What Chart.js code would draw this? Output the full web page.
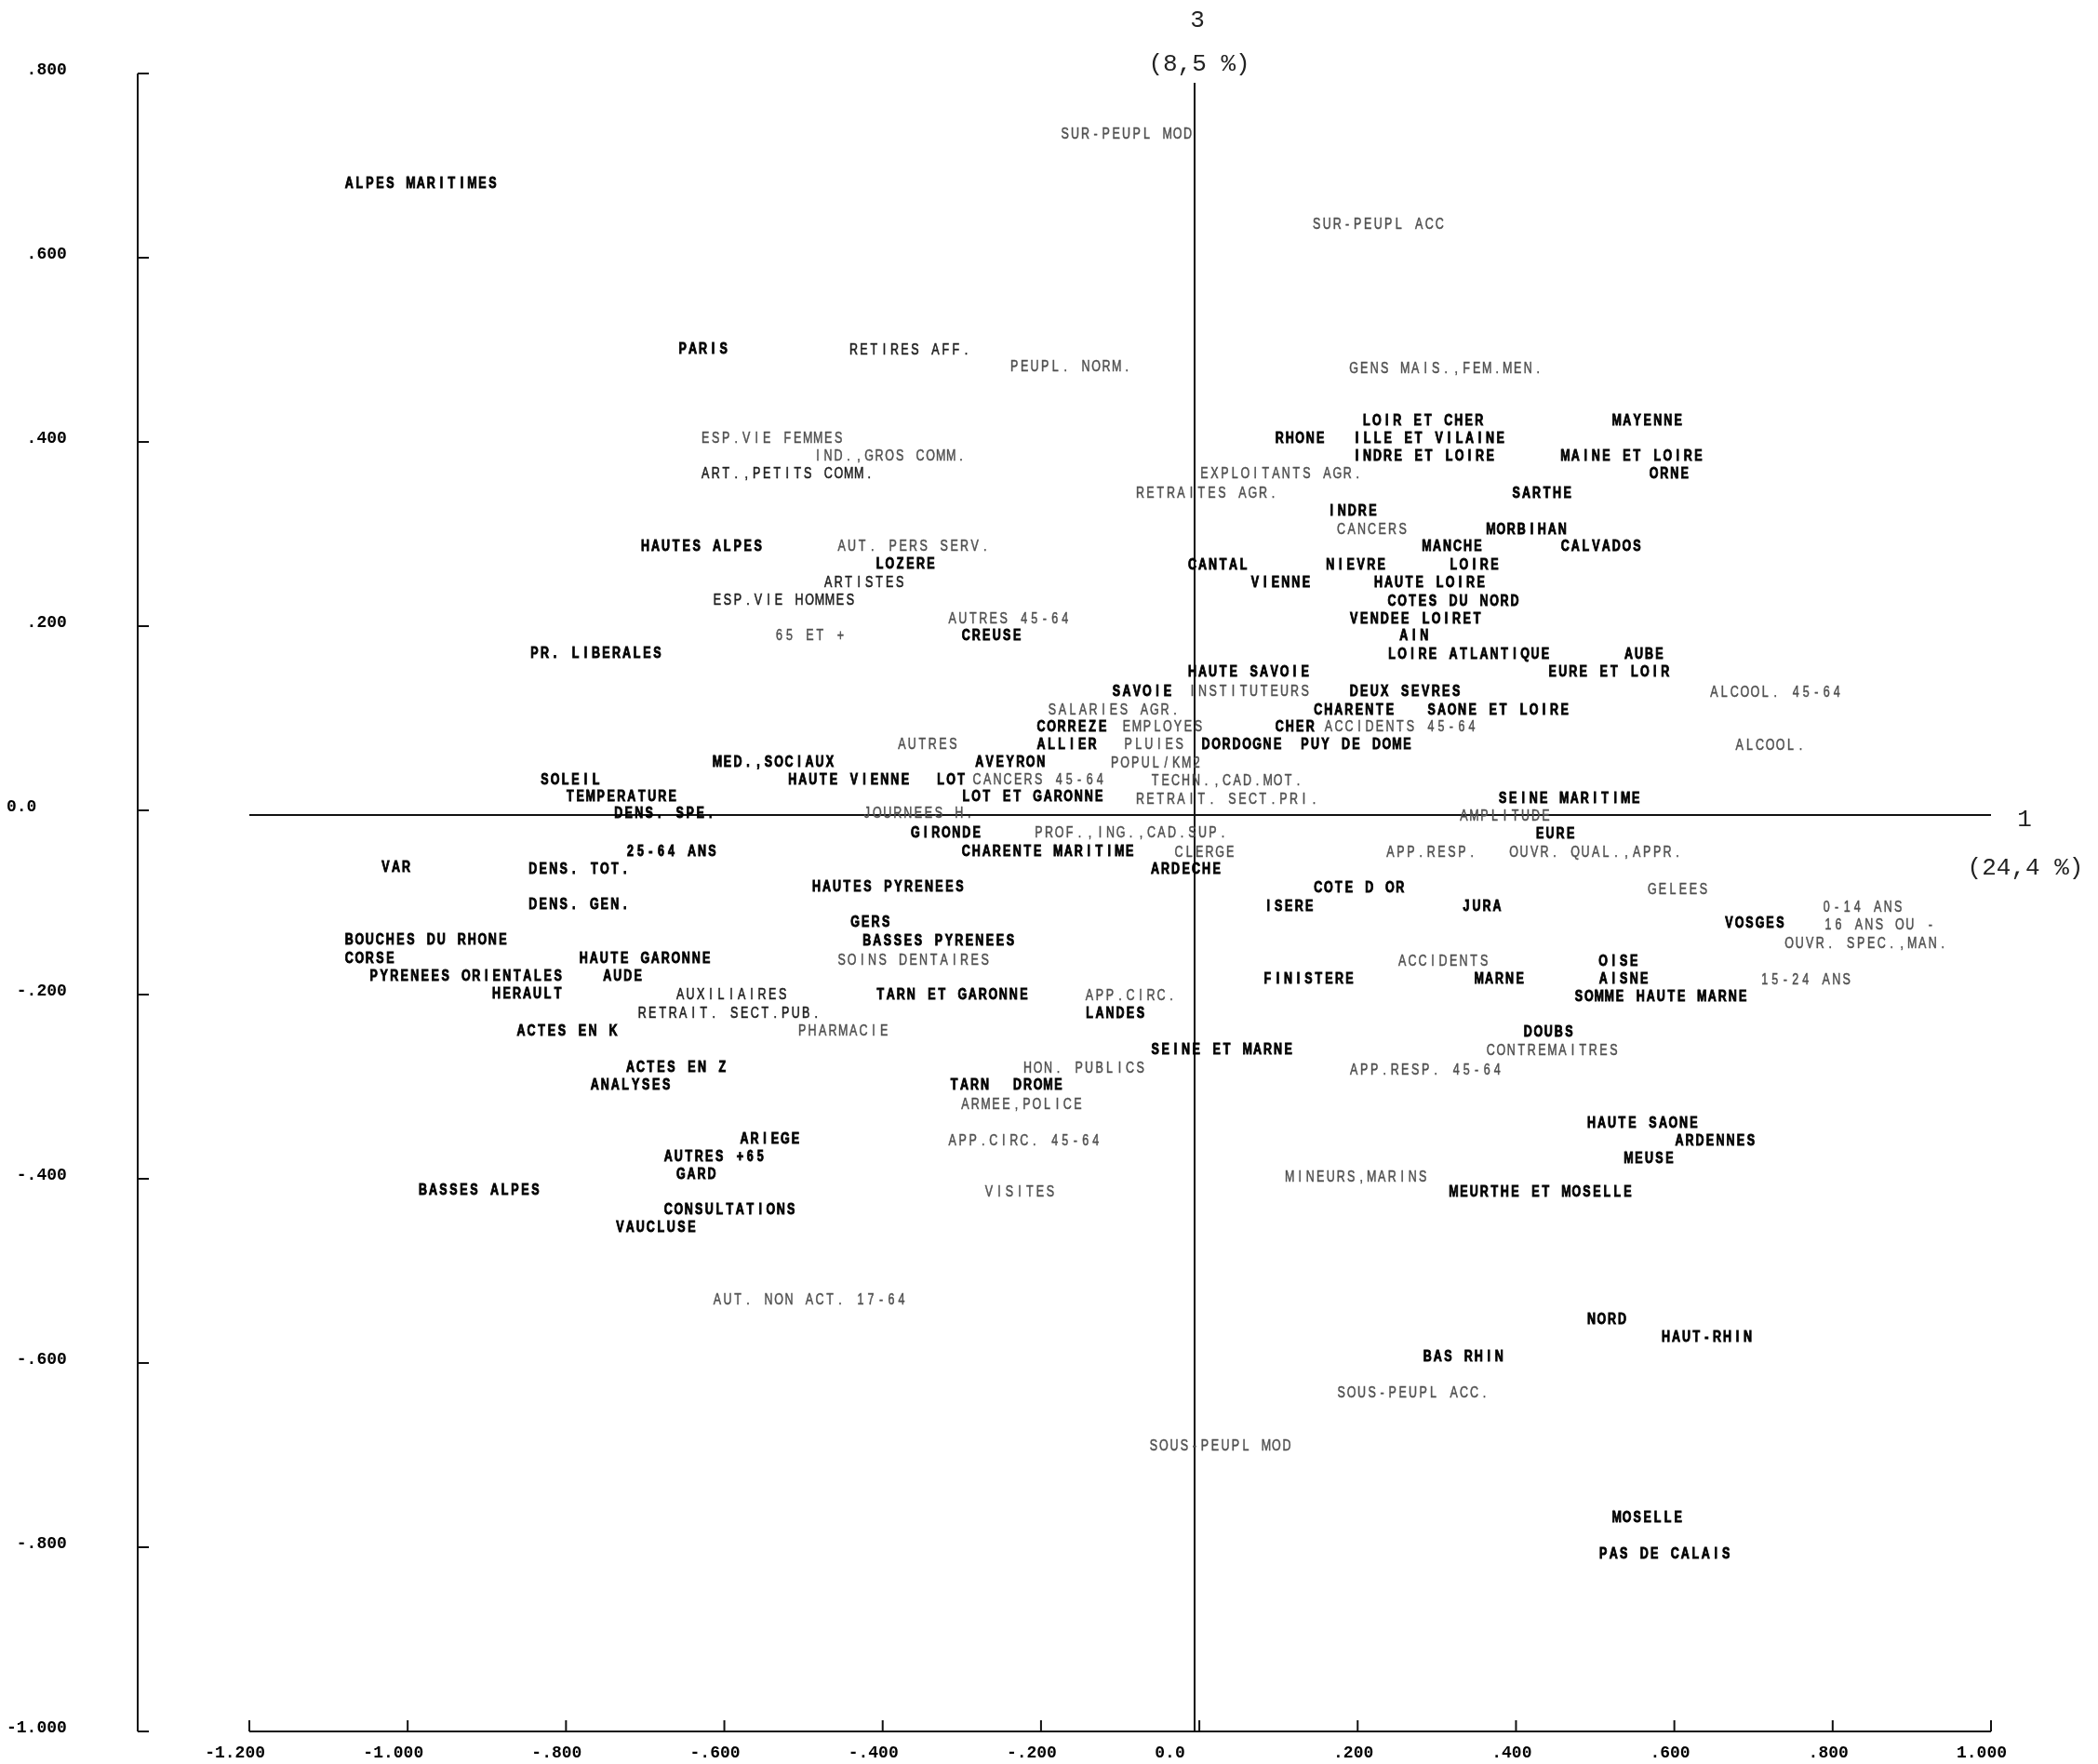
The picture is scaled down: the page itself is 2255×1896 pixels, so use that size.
<!DOCTYPE html>
<html>
<head>
<meta charset="utf-8">
<title>Plan factoriel 1 x 3</title>
<script src="https://cdn.jsdelivr.net/npm/chart.js@4.4.1/dist/chart.umd.min.js"></script>
<style>
  html, body { margin: 0; padding: 0; background: #fff; }
  canvas { display: block; }
</style>
</head>
<body>
<canvas id="plan" width="2255" height="1896"></canvas>
<script>
// departements (individus actifs)
const deptNames = [
  'ALPES MARITIMES', 'PARIS', 'LOIR ET CHER', 'MAYENNE', 'RHONE', 'ILLE ET VILAINE',
  'INDRE ET LOIRE', 'MAINE ET LOIRE', 'ORNE', 'SARTHE', 'INDRE', 'MORBIHAN',
  'HAUTES ALPES', 'MANCHE', 'CALVADOS', 'LOZERE', 'CANTAL', 'NIEVRE', 'LOIRE',
  'VIENNE', 'HAUTE LOIRE', 'COTES DU NORD', 'VENDEE', 'LOIRET', 'CREUSE', 'AIN',
  'LOIRE ATLANTIQUE', 'AUBE', 'HAUTE SAVOIE', 'EURE ET LOIR', 'SAVOIE', 'DEUX SEVRES',
  'CHARENTE', 'SAONE ET LOIRE', 'CORREZE', 'CHER', 'ALLIER', 'DORDOGNE', 'PUY DE DOME',
  'AVEYRON', 'HAUTE VIENNE', 'LOT', 'LOT ET GARONNE', 'SEINE MARITIME', 'GIRONDE',
  'EURE', 'CHARENTE MARITIME', 'VAR', 'ARDECHE', 'HAUTES PYRENEES', 'COTE D OR',
  'ISERE', 'JURA', 'GERS', 'VOSGES', 'BOUCHES DU RHONE', 'BASSES PYRENEES', 'CORSE',
  'HAUTE GARONNE', 'OISE', 'PYRENEES ORIENTALES', 'AUDE', 'FINISTERE', 'MARNE',
  'AISNE', 'HERAULT', 'TARN ET GARONNE', 'SOMME', 'HAUTE MARNE', 'LANDES', 'DOUBS',
  'SEINE ET MARNE', 'TARN', 'DROME', 'HAUTE SAONE', 'ARIEGE', 'ARDENNES', 'MEUSE',
  'GARD', 'BASSES ALPES', 'MEURTHE ET MOSELLE', 'VAUCLUSE', 'NORD', 'HAUT-RHIN',
  'BAS RHIN', 'MOSELLE', 'PAS DE CALAIS'
];
const deptX = [
  -1.079, -0.658, 0.206, 0.522, 0.096, 0.194,
  0.194, 0.457, 0.569, 0.395, 0.162, 0.363,
  -0.705, 0.282, 0.457, -0.409, -0.014, 0.160, 0.316,
  0.065, 0.221, 0.238, 0.190, 0.281, -0.300, 0.253,
  0.238, 0.537, -0.014, 0.441, -0.110, 0.190,
  0.145, 0.288, -0.205, 0.096, -0.205, 0.003, 0.128,
  -0.283, -0.519, -0.332, -0.300, 0.378, -0.364,
  0.425, -0.300, -1.033, -0.061, -0.489, 0.145,
  0.082, 0.332, -0.440, 0.664, -1.079, -0.425, -1.079,
  -0.783, 0.505, -1.048, -0.753, 0.081, 0.348,
  0.505, -0.893, -0.408, 0.474, 0.552, -0.144, 0.410,
  -0.061, -0.315, -0.235, 0.490, -0.580, 0.601, 0.537,
  -0.660, -0.986, 0.316, -0.737, 0.490, 0.584,
  0.283, 0.522, 0.505
];
const deptY = [
  0.681, 0.502, 0.424, 0.424, 0.405, 0.405,
  0.385, 0.385, 0.366, 0.345, 0.326, 0.306,
  0.287, 0.287, 0.287, 0.268, 0.267, 0.267, 0.267,
  0.248, 0.248, 0.228, 0.209, 0.209, 0.190, 0.190,
  0.170, 0.170, 0.151, 0.151, 0.130, 0.130,
  0.110, 0.110, 0.091, 0.091, 0.072, 0.072, 0.072,
  0.053, 0.034, 0.034, 0.016, 0.014, -0.024,
  -0.025, -0.044, -0.061, -0.063, -0.082, -0.083,
  -0.104, -0.104, -0.121, -0.122, -0.140, -0.141, -0.160,
  -0.160, -0.163, -0.179, -0.179, -0.182, -0.182,
  -0.182, -0.198, -0.199, -0.202, -0.202, -0.220, -0.240,
  -0.259, -0.297, -0.297, -0.339, -0.356, -0.358, -0.377,
  -0.394, -0.412, -0.414, -0.452, -0.552, -0.571,
  -0.592, -0.767, -0.807
];

// variables
const varNames = [
  'SUR-PEUPL MOD', 'SUR-PEUPL ACC', 'RETIRES AFF.', 'PEUPL. NORM.', 'GENS MAIS.,FEM.MEN.',
  'ESP.VIE FEMMES', 'IND.,GROS COMM.', 'ART.,PETITS COMM.', 'EXPLOITANTS AGR.',
  'RETRAITES AGR.', 'CANCERS', 'AUT. PERS SERV.', 'ARTISTES', 'ESP.VIE HOMMES',
  'AUTRES 45-64', '65 ET +', 'PR. LIBERALES', 'INSTITUTEURS', 'ALCOOL. 45-64',
  'SALARIES AGR.', 'EMPLOYES', 'ACCIDENTS 45-64', 'AUTRES', 'PLUIES', 'ALCOOL.',
  'MED.,SOCIAUX', 'POPUL/KM2', 'SOLEIL', 'CANCERS 45-64', 'TECHN.,CAD.MOT.',
  'TEMPERATURE', 'RETRAIT. SECT.PRI.', 'DENS. SPE.', 'JOURNEES H.', 'AMPLITUDE',
  'PROF.,ING.,CAD.SUP.', '25-64 ANS', 'CLERGE', 'APP.RESP.', 'OUVR. QUAL.,APPR.',
  'DENS. TOT.', 'GELEES', 'DENS. GEN.', '0-14 ANS', '16 ANS OU -', 'OUVR. SPEC.,MAN.',
  'SOINS DENTAIRES', 'ACCIDENTS', '15-24 ANS', 'AUXILIAIRES', 'APP.CIRC.',
  'RETRAIT. SECT.PUB.', 'ACTES EN K', 'PHARMACIE', 'CONTREMAITRES', 'ACTES EN Z',
  'HON. PUBLICS', 'APP.RESP. 45-64', 'ANALYSES', 'ARMEE,POLICE', 'APP.CIRC. 45-64',
  'AUTRES +65', 'MINEURS,MARINS', 'VISITES', 'CONSULTATIONS', 'AUT. NON ACT. 17-64',
  'SOUS-PEUPL ACC.', 'SOUS-PEUPL MOD'
];
const varX = [
  -0.175, 0.143, -0.442, -0.239, 0.190,
  -0.629, -0.487, -0.629, 0.001,
  -0.080, 0.174, -0.457, -0.474, -0.614,
  -0.317, -0.536, -0.845, -0.014, 0.645,
  -0.191, -0.097, 0.158, -0.381, -0.095, 0.677,
  -0.614, -0.112, -0.832, -0.286, -0.061,
  -0.800, -0.080, -0.739, -0.425, 0.329,
  -0.208, -0.724, -0.031, 0.236, 0.392,
  -0.847, 0.567, -0.847, 0.787, 0.789, 0.740,
  -0.457, 0.251, 0.709, -0.661, -0.144,
  -0.709, -0.862, -0.507, 0.363, -0.724,
  -0.222, 0.190, -0.769, -0.301, -0.317,
  -0.676, 0.109, -0.271, -0.676, -0.614,
  0.174, -0.063
];
const varY = [
  0.735, 0.637, 0.501, 0.482, 0.480,
  0.405, 0.385, 0.366, 0.366,
  0.345, 0.306, 0.287, 0.248, 0.229,
  0.209, 0.190, 0.171, 0.130, 0.129,
  0.110, 0.091, 0.091, 0.072, 0.072, 0.071,
  0.053, 0.052, 0.034, 0.034, 0.033,
  0.016, 0.013, -0.003, -0.003, -0.006,
  -0.024, -0.044, -0.045, -0.045, -0.045,
  -0.063, -0.085, -0.102, -0.105, -0.124, -0.144,
  -0.162, -0.163, -0.183, -0.199, -0.201,
  -0.220, -0.239, -0.239, -0.260, -0.278,
  -0.279, -0.281, -0.297, -0.319, -0.358,
  -0.375, -0.397, -0.414, -0.433, -0.531,
  -0.632, -0.689
];

const xTickLabels = ['-1.200', '-1.000', '-.800', '-.600', '-.400', '-.200', '0.0   ', '.200', '.400', '.600', '.800', '1.000'];
// padded to the same width, the plotter printed them in a fixed field
const yTickLabels = ['-1.000', ' -.800', ' -.600', ' -.400', ' -.200', '0.0   ', '  .200', '  .400', '  .600', '  .800'];

const axis1Title = ['1', '(24,4 %)'];
const axis3Title = ['3', '(8,5 %)'];

// some variables came out with the heavy pen, others with the dark thin one
const boldVars = new Set(['PR. LIBERALES', 'MED.,SOCIAUX', 'SOLEIL', 'TEMPERATURE', 'DENS. SPE.',
  '25-64 ANS', 'DENS. TOT.', 'DENS. GEN.', 'ACTES EN K', 'ACTES EN Z', 'ANALYSES',
  'AUTRES +65', 'CONSULTATIONS']);
const darkVars = new Set(['RETIRES AFF.', 'ART.,PETITS COMM.', 'ARTISTES', 'ESP.VIE HOMMES',
  'AUXILIAIRES', 'RETRAIT. SECT.PUB.']);

const leftAxisAt = -1.341; // vertical frame axis sits left of x = -1.2
const axis3At = -0.006;    // the plotted axis 3 sits a hair left of the 0 tick
const axis1At = -0.005;
const crossTop = 0.79;     // top end of axis 3
const tickLen = 12;
const pitch = 11;

function toPoints(names, xs, ys) {
  return names.map((n, i) => ({ x: xs[i], y: ys[i], name: n }));
}

function plotterText(ctx, text, x, y) {
  for (let i = 0; i < text.length; i++) {
    const ch = text[i];
    if (ch === ' ') continue;
    ctx.save();
    ctx.translate(x + i * pitch + pitch * 0.4, y + 5.5);
    ctx.scale(0.78, 1);
    ctx.fillText(ch, 0, 0);
    ctx.strokeText(ch, 0, 0);
    ctx.restore();
  }
}

const frameAxes = {
  id: 'frameAxes',
  beforeDatasetsDraw(chart) {
    const { ctx, scales: { x, y } } = chart;
    const ax = x.getPixelForValue(leftAxisAt);
    const by = y.getPixelForValue(y.min);
    const left = x.getPixelForValue(x.min);
    const right = x.getPixelForValue(x.max);
    const ox = x.getPixelForValue(axis3At);
    const oy = y.getPixelForValue(axis1At);

    ctx.save();
    ctx.strokeStyle = '#111';
    ctx.lineWidth = 2;
    ctx.beginPath();
    ctx.moveTo(ax, y.getPixelForValue(y.max));
    ctx.lineTo(ax, by);
    y.ticks.forEach((t) => {
      const py = y.getPixelForValue(t.value);
      ctx.moveTo(ax, py);
      ctx.lineTo(ax + tickLen, py);
    });
    ctx.moveTo(left, by);
    ctx.lineTo(right, by);
    x.ticks.forEach((t) => {
      const px = x.getPixelForValue(t.value);
      ctx.moveTo(px, by);
      ctx.lineTo(px, by - tickLen);
    });
    // central cross
    ctx.moveTo(left, oy);
    ctx.lineTo(right, oy);
    ctx.moveTo(ox, y.getPixelForValue(crossTop));
    ctx.lineTo(ox, by);
    ctx.stroke();

    ctx.fillStyle = '#222';
    ctx.textAlign = 'center';
    ctx.textBaseline = 'middle';
    ctx.font = '26px "Liberation Mono"';
    ctx.fillText(axis3Title[0], ox + 3, y.top - 57);
    ctx.fillText(axis1Title[0], right + 36, oy + 5);
    ctx.fillText(axis3Title[1], ox + 5, y.top - 10);
    ctx.fillText(axis1Title[1], right + 37, oy + 57);
    ctx.restore();
  }
};

const pointLabels = {
  id: 'pointLabels',
  afterDatasetsDraw(chart) {
    const ctx = chart.ctx;
    ctx.save();
    ctx.textAlign = 'center';
    ctx.textBaseline = 'alphabetic';
    chart.data.datasets.forEach((ds, di) => {
      const meta = chart.getDatasetMeta(di);
      meta.data.forEach((el, i) => {
        const name = ds.data[i].name;
        if (di === 0 || boldVars.has(name)) {
          ctx.font = 'bold 16px "Liberation Sans"';
          ctx.fillStyle = ctx.strokeStyle = '#000';
          ctx.lineWidth = 0.9;
        } else if (darkVars.has(name)) {
          ctx.font = '16px "Liberation Sans"';
          ctx.fillStyle = ctx.strokeStyle = '#1e1e1e';
          ctx.lineWidth = 0.6;
        } else {
          ctx.font = '16px "Liberation Sans"';
          ctx.fillStyle = ctx.strokeStyle = '#505050';
          ctx.lineWidth = 0.5;
        }
        plotterText(ctx, name, el.x, el.y);
      });
    });
    ctx.restore();
  }
};

const tickFont = { family: 'Liberation Mono', size: 18, weight: 'bold' };

new Chart(document.getElementById('plan'), {
  type: 'scatter',
  data: {
    datasets: [
      { label: 'Departements', data: toPoints(deptNames, deptX, deptY), pointRadius: 0 },
      { label: 'Variables', data: toPoints(varNames, varX, varY), pointRadius: 0 }
    ]
  },
  options: {
    responsive: false,
    animation: false,
    events: [],
    layout: { padding: { top: 79, right: 115, bottom: 0, left: 7 } },
    plugins: { legend: { display: false }, tooltip: { enabled: false } },
    scales: {
      x: {
        type: 'linear', min: -1.2, max: 1.0,
        grid: { display: false, drawTicks: false },
        border: { display: false },
        ticks: {
          stepSize: 0.2, autoSkip: false, maxRotation: 0, minRotation: 0,
          align: 'end', labelOffset: 17, padding: 13,
          color: '#000', font: tickFont,
          callback: (v, i) => xTickLabels[i]
        },
        afterFit: (s) => { s.height = 35; }
      },
      y: {
        type: 'linear', min: -1.0, max: 0.8,
        grid: { display: false, drawTicks: false },
        border: { display: false },
        ticks: {
          stepSize: 0.2, autoSkip: false, padding: 0, labelOffset: -4,
          crossAlign: 'far',
          color: '#000', font: tickFont,
          callback: (v, i) => yTickLabels[i]
        },
        afterFit: (s) => { s.width = 261; }
      }
    }
  },
  plugins: [frameAxes, pointLabels]
});
</script>
</body>
</html>
